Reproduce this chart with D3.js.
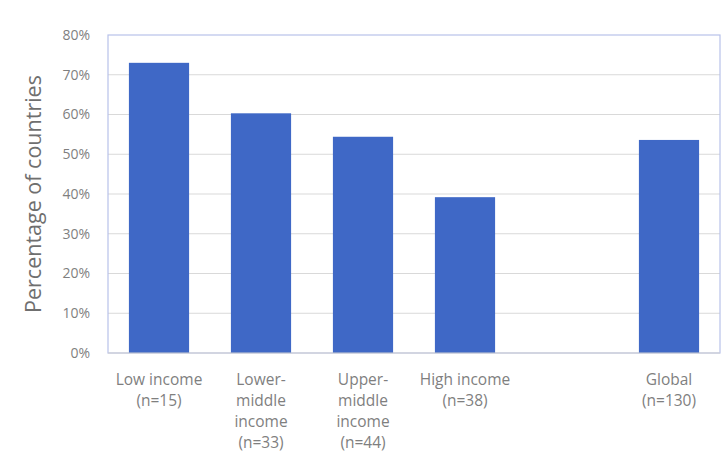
<!DOCTYPE html>
<html><head><meta charset="utf-8">
<script src="https://cdn.jsdelivr.net/npm/d3@7"></script>
<style>body{margin:0;background:#fff;} text{font-family:"Open Sans",sans-serif;}</style>
</head><body>
<svg id="c" width="725" height="470"></svg>
<script>
const categories = ["Low income", "Lower-middle income", "Upper-middle income", "High income", "", "Global"];
const labelLines = [["Low income","(n=15)"],["Lower-","middle","income","(n=33)"],["Upper-","middle","income","(n=44)"],["High income","(n=38)"],[],["Global","(n=130)"]];
const values = [73, 60.3, 54.4, 39.2, null, 53.6];
const yTicks = [0,10,20,30,40,50,60,70,80];

const svg = d3.select("#c");
const m = {l:108, r:5, t:35, b:117};
const W = 725, H = 470;
const x = d3.scaleBand().domain(d3.range(categories.length)).range([m.l, W-m.r]).paddingInner(0.41).paddingOuter(0.205);
const y = d3.scaleLinear().domain([0,80]).range([H-m.b, m.t]);

// gridlines
svg.append("g").selectAll("line").data(yTicks.filter(d=>d>0 && d<80)).join("line")
  .attr("x1", m.l).attr("x2", W-m.r).attr("y1", d=>y(d)).attr("y2", d=>y(d))
  .attr("stroke", "#d9d9d9").attr("stroke-width", 1);

// plot border
svg.append("rect").attr("x", m.l).attr("y", m.t).attr("width", W-m.r-m.l).attr("height", y(0)-m.t)
  .attr("fill","none").attr("stroke","#b8c2ea").attr("stroke-width",1.2);

// bars
svg.append("g").selectAll("rect").data(values.map((v,i)=>({v,i})).filter(d=>d.v!=null)).join("rect")
  .attr("x", d=>x(d.i)).attr("width", x.bandwidth())
  .attr("y", d=>y(d.v)).attr("height", d=>y(0)-y(d.v))
  .attr("fill", "#3f68c6");

// x axis line
svg.append("line").attr("x1", m.l).attr("x2", W-m.r).attr("y1", y(0)).attr("y2", y(0)).attr("stroke","#d0d0d0");

// y axis
const ya = d3.axisLeft(y).tickValues(yTicks).tickFormat(d=>d+"%").tickSize(0).tickPadding(18);
const yg = svg.append("g").attr("transform", `translate(${m.l},0)`).call(ya);
yg.select(".domain").remove();
yg.selectAll("text").attr("font-size", 14).attr("fill", "#7f7f7f").attr("font-family","Open Sans, sans-serif");

// x labels
const xg = svg.append("g");
labelLines.forEach((lines,i)=>{
  const t = xg.append("text").attr("x", x(i)+x.bandwidth()/2).attr("y", 385)
    .attr("text-anchor","middle").attr("font-size",15.5).attr("fill","#7f7f7f");
  lines.forEach((s,k)=>t.append("tspan").attr("x", x(i)+x.bandwidth()/2).attr("dy", k===0?0:21).text(s));
});

// y title
svg.append("text").attr("transform", `translate(41,${(m.t+y(0))/2}) rotate(-90)`)
  .attr("text-anchor","middle").attr("font-size",21.5).attr("fill","#6f6f6f").text("Percentage of countries");
</script>
</body></html>
